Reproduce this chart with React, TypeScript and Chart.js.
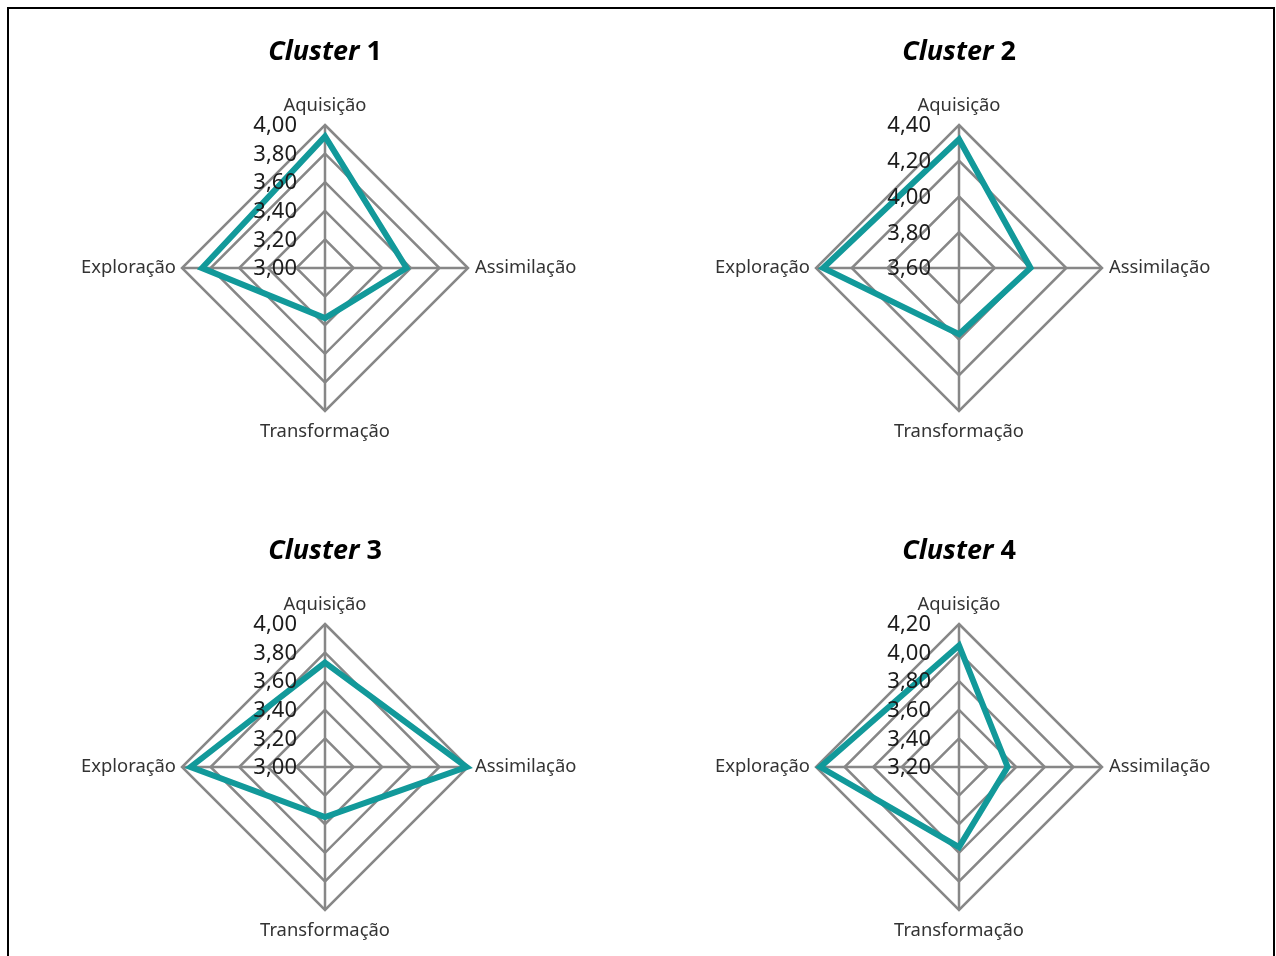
import React, { useEffect, useRef } from "react";
import { Chart, registerables } from "chart.js";

Chart.register(...registerables);

const categories = ["Aquisição", "Assimilação", "Transformação", "Exploração"];

const cluster1 = [3.92, 3.57, 3.35, 3.86];
const cluster2 = [4.32, 4.0, 3.97, 4.36];
const cluster3 = [3.73, 3.99, 3.35, 3.94];
const cluster4 = [4.05, 3.54, 3.76, 4.17];

const ticks1 = ["3,00", "3,20", "3,40", "3,60", "3,80", "4,00"];
const ticks2 = ["3,60", "3,80", "4,00", "4,20", "4,40"];
const ticks3 = ["3,00", "3,20", "3,40", "3,60", "3,80", "4,00"];
const ticks4 = ["3,20", "3,40", "3,60", "3,80", "4,00", "4,20"];

const clusterNumbers = ["1", "2", "3", "4"];

const TEAL = "#12999a";
const GRID = "#878787";
const FONT = "'Noto Sans', 'Open Sans', sans-serif";

const parseNum = (s: string) => parseFloat(s.replace(",", "."));

const drawPlugin = {
  id: "excelRadar",
  afterDatasetsDraw(chart: any, _args: any, opts: any) {
    const ctx = chart.ctx as CanvasRenderingContext2D;
    const scale = chart.scales.r;
    const cx = scale.xCenter;
    const cy = scale.yCenter;
    const R = scale.drawingArea;
    ctx.save();

    // tick labels
    ctx.font = `22px ${FONT}`;
    ctx.fillStyle = "#1c1c1c";
    ctx.textAlign = "right";
    ctx.textBaseline = "middle";
    (opts.tickLabels as string[]).forEach((t) => {
      const d = scale.getDistanceFromCenterForValue(parseNum(t));
      ctx.fillText(t, cx - 28, cy - d + 1);
    });

    // point labels
    ctx.font = `18.4px ${FONT}`;
    ctx.fillStyle = "#333333";
    categories.forEach((label, i) => {
      const p = scale.getPointPosition(i, R);
      if (i === 0) {
        ctx.textAlign = "center";
        ctx.textBaseline = "alphabetic";
        ctx.fillText(label, p.x, p.y - 14);
      } else if (i === 1) {
        ctx.textAlign = "left";
        ctx.textBaseline = "middle";
        ctx.fillText(label, p.x + 7, p.y);
      } else if (i === 2) {
        ctx.textAlign = "center";
        ctx.textBaseline = "alphabetic";
        ctx.fillText(label, p.x, p.y + 26);
      } else {
        ctx.textAlign = "right";
        ctx.textBaseline = "middle";
        ctx.fillText(label, p.x - 6, p.y);
      }
    });

    // title
    const italicFont = `italic bold 27px ${FONT}`;
    const boldFont = `bold 27px ${FONT}`;
    const part1 = "Cluster";
    const part2 = " " + opts.number;
    ctx.font = italicFont;
    const w1 = ctx.measureText(part1).width;
    ctx.font = boldFont;
    const w2 = ctx.measureText(part2).width;
    const x0 = cx - (w1 + w2) / 2;
    const yb = cy - 208;
    ctx.fillStyle = "#000000";
    ctx.textAlign = "left";
    ctx.textBaseline = "alphabetic";
    ctx.font = italicFont;
    ctx.fillText(part1, x0, yb);
    ctx.font = boldFont;
    ctx.fillText(part2, x0 + w1, yb);

    ctx.restore();
  },
};

const CW = 620;
const CH = 490;

function RadarChart(props: { values: number[]; tickLabels: string[]; number: string; cx: number; cy: number }) {
  const ref = useRef<HTMLCanvasElement | null>(null);
  useEffect(() => {
    if (!ref.current) return;
    const { values, tickLabels, number } = props;
    const min = parseNum(tickLabels[0]);
    const max = parseNum(tickLabels[tickLabels.length - 1]);
    const chart = new Chart(ref.current, {
      type: "radar",
      data: {
        labels: categories,
        datasets: [
          {
            data: values,
            borderColor: TEAL,
            backgroundColor: "rgba(0,0,0,0)",
            borderWidth: 6,
            fill: false,
            pointRadius: 0,
            pointHoverRadius: 0,
            borderJoinStyle: "miter",
          } as any,
        ],
      },
      options: {
        responsive: false,
        animation: false,
        events: [],
        layout: { padding: { left: 167, right: 167, top: 115, bottom: 89 } },
        plugins: {
          legend: { display: false },
          tooltip: { enabled: false },
          title: { display: false },
          excelRadar: { tickLabels, number },
        } as any,
        scales: {
          r: {
            min,
            max,
            ticks: { display: false, stepSize: 0.2 },
            grid: { color: GRID, lineWidth: 2.5 },
            angleLines: { color: GRID, lineWidth: 2.5 },
            pointLabels: { display: false },
          },
        },
      },
      plugins: [drawPlugin as any],
    });
    return () => chart.destroy();
  }, []);
  return (
    <canvas
      ref={ref}
      width={CW}
      height={CH}
      style={{ position: "absolute", left: props.cx - 310, top: props.cy - 258, width: CW, height: CH }}
    />
  );
}

export default function App() {
  return (
    <div style={{ position: "fixed", left: 0, top: 0, width: 1276, height: 956, background: "#fff", overflow: "hidden" }}>
      <div
        style={{
          position: "absolute",
          left: 7,
          top: 7,
          width: 1268,
          height: 1000,
          border: "2px solid #000",
          boxSizing: "border-box",
        }}
      />
      <RadarChart values={cluster1} tickLabels={ticks1} number={clusterNumbers[0]} cx={325} cy={268} />
      <RadarChart values={cluster2} tickLabels={ticks2} number={clusterNumbers[1]} cx={959} cy={268} />
      <RadarChart values={cluster3} tickLabels={ticks3} number={clusterNumbers[2]} cx={325} cy={767} />
      <RadarChart values={cluster4} tickLabels={ticks4} number={clusterNumbers[3]} cx={959} cy={767} />
    </div>
  );
}
